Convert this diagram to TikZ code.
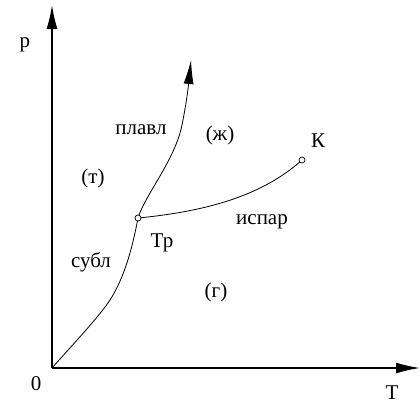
\documentclass[tikz,border=0pt]{standalone}
\usepackage{fontspec}
\setmainfont{Liberation Serif}
\usetikzlibrary{arrows.meta}
\begin{document}
\begin{tikzpicture}[x=1pt,y=-1pt,
  axis/.style={line width=1.6pt,-{Latex[length=24pt,width=11pt]}},
  curve/.style={line width=0.8pt},
  lbl/.style={font=\fontsize{21}{21}\selectfont,inner sep=0pt},
  pt/.style={circle,draw,line width=0.7pt,minimum size=6pt,inner sep=0pt,fill=white}]
\useasboundingbox (0,0) rectangle (420,405);
\coordinate (O) at (52,368);
\coordinate (ytop) at (52,5);
\coordinate (xend) at (420,368);
\coordinate (mtop) at (191,60);
\draw[axis] (O) -- (ytop);
\draw[axis] (O) -- (xend);
\draw[curve] (O) .. controls (75,342) and (98,318) .. (110,300) .. controls (124,278) and (132,250) .. (138,218);
\draw[curve,-{Latex[length=24pt,width=10pt]}] (138,218) .. controls (145,195) and (175,160) .. (182,125) .. controls (186,105) and (188,90) .. (mtop);
\draw[curve] (138,218) .. controls (200,212) and (260,198) .. (302,160);
\node[pt] (Tp) at (138,218) {};
\node[pt] (K) at (302,160) {};
\node[lbl] (p) at (25,45) {p};
\node[lbl] (z) at (36,384) {0};
\node[lbl] (T) at (392,393) {T};
\node[lbl] (pl) at (141,130) {плавл};
\node[lbl] (zh) at (220,135) {(ж)};
\node[lbl] (Kl) at (318,141) {К};
\node[lbl] (t) at (93,178) {(т)};
\node[lbl] (isp) at (262,222) {испар};
\node[lbl] (Tr) at (162,243) {Тр};
\node[lbl] (sub) at (91,262) {субл};
\node[lbl] (g) at (216,292) {(г)};
\end{tikzpicture}
\end{document}
